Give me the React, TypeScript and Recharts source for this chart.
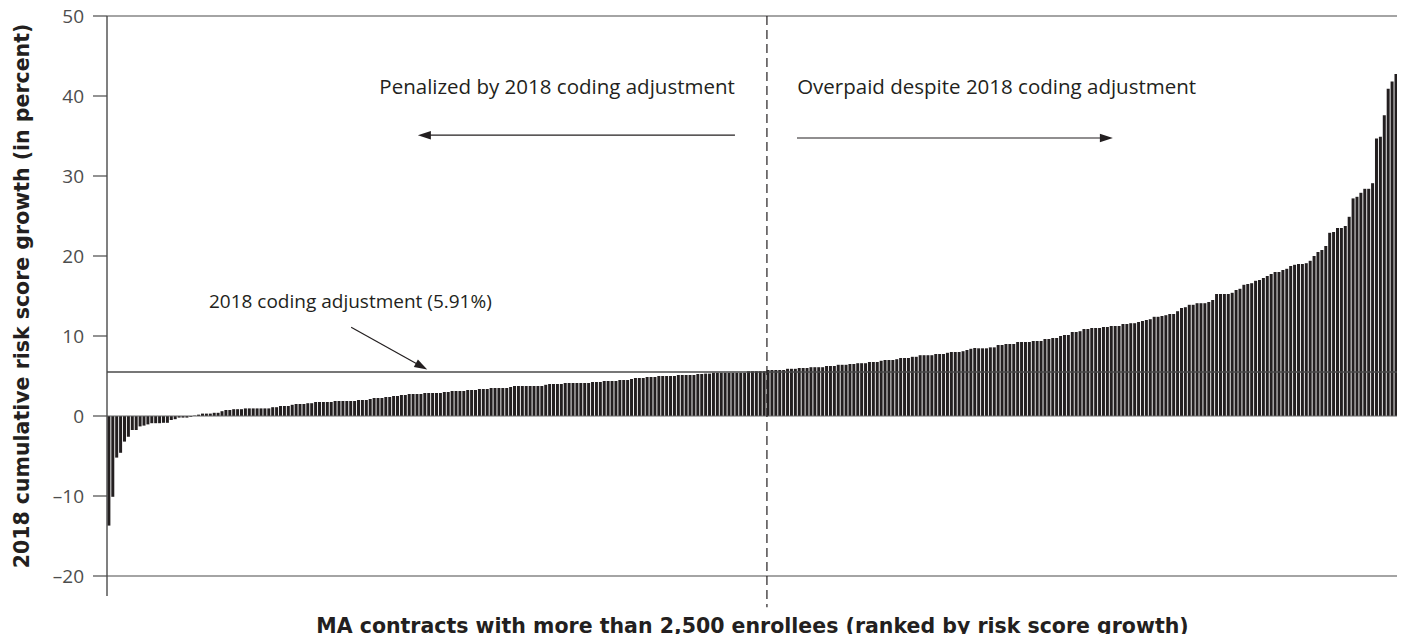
import React from 'react';
import { ComposedChart, Bar, XAxis, YAxis, ReferenceLine, ReferenceDot, Label } from 'recharts';

// 2018 cumulative risk score growth (percent), MA contracts ranked ascending
const riskGrowth: number[] = [
  // lowest contracts
  -13.7, -10.1, -5.2, -4.6, -3.2, -2.6, -1.75, -1.75, -1.3, -1.2, -1.05, -0.9, -0.9, -0.9, -0.85, -0.85,
  -0.5, -0.4, -0.2, -0.2, -0.2, -0.1, 0.05, 0.17, 0.3, 0.3, 0.3, 0.4, 0.4, 0.6, 0.75, 0.75, 0.85, 0.85,
  0.85, 0.95, 0.95, 0.95, 0.95, 0.95, 0.95, 0.95, 1.1, 1.1, 1.25, 1.25, 1.25, 1.4, 1.5, 1.5, 1.5, 1.6,
  1.6, 1.75, 1.75,
  // second segment
  1.75, 1.75, 1.75, 1.875, 1.875, 1.875, 1.875, 1.875, 1.875, 2.0, 2.0, 2.0, 2.125, 2.25, 2.25, 2.25,
  2.375, 2.375, 2.5, 2.5, 2.625, 2.625, 2.75, 2.75, 2.75, 2.75, 2.875, 2.875, 2.875, 2.875, 2.875, 3.0,
  3.0, 3.125, 3.125, 3.125, 3.125, 3.25, 3.25, 3.25, 3.375, 3.375, 3.375, 3.5, 3.5, 3.5, 3.5, 3.5,
  3.625, 3.75, 3.75, 3.75, 3.75, 3.75, 3.75, 3.75,
  // third segment
  3.75, 3.9, 4.0, 4.0, 4.0, 4.0, 4.125, 4.125, 4.125, 4.125, 4.125, 4.125, 4.125, 4.25, 4.25, 4.25,
  4.375, 4.375, 4.375, 4.375, 4.5, 4.5, 4.5, 4.625, 4.75, 4.75, 4.75, 4.875, 4.875, 4.875, 5.0, 5.0,
  5.0, 5.0, 5.0, 5.125, 5.125, 5.125, 5.125, 5.125, 5.25, 5.25, 5.3, 5.3, 5.4, 5.4, 5.4, 5.4, 5.4,
  5.4, 5.4, 5.4, 5.4, 5.6, 5.6, 5.6,
  // fourth segment
  5.6, 5.6, 5.75, 5.75, 5.75, 5.75, 5.75, 5.9, 5.9, 5.9, 6.0, 6.0, 6.0, 6.1, 6.1, 6.1, 6.1, 6.25, 6.25,
  6.25, 6.4, 6.4, 6.4, 6.5, 6.5, 6.6, 6.6, 6.6, 6.75, 6.75, 6.75, 6.9, 7.0, 7.0, 7.0, 7.1, 7.25, 7.25,
  7.25, 7.4, 7.4, 7.6, 7.6, 7.6, 7.6, 7.75, 7.75, 7.75, 7.9, 8.0, 8.0, 8.0, 8.1, 8.25, 8.4, 8.5,
  // fifth segment
  8.46, 8.46, 8.46, 8.58, 8.58, 8.875, 8.875, 9.0, 9.0, 9.0, 9.25, 9.25, 9.25, 9.25, 9.375, 9.375,
  9.375, 9.625, 9.625, 9.75, 9.75, 10.0, 10.125, 10.125, 10.5, 10.5, 10.6, 10.875, 10.875, 11.0, 11.0,
  11.0, 11.125, 11.125, 11.25, 11.25, 11.25, 11.5, 11.5, 11.6, 11.6, 11.75, 11.875,
  // sixth segment
  12.0, 12.1, 12.4, 12.4, 12.5, 12.6, 12.75, 12.75, 13.1, 13.5, 13.6, 13.9, 13.9, 14.1, 14.1, 14.1,
  14.25, 14.5, 15.25, 15.25, 15.25, 15.25, 15.4, 15.75, 15.9, 16.4, 16.5, 16.6, 16.9, 17.0,
  // highest contracts
  17.25, 17.5, 17.75, 18.0, 18.0, 18.25, 18.4, 18.75, 18.9, 19.0, 19.0, 19.1, 19.4, 20.0, 20.5, 20.75,
  21.25, 22.9, 23.0, 23.5, 23.5, 23.75, 24.9, 27.2, 27.4, 27.9, 28.4, 28.4, 29.1, 34.7, 34.9, 37.6,
  40.9, 41.8, 42.75,
];

const yTicks = [-20, -10, 0, 10, 20, 30, 40, 50];
const codingAdjustmentDrawn = 5.5;
const medianRank = 169.2;

const N = riskGrowth.length;
const data = riskGrowth.map((g, i) => ({ rank: i + 1, pos: i + 0.5, growth: g }));

const INK = '#231f20';
const LINE = '#4a4a4a';
const FONT = "'Open Sans', 'DejaVu Sans', sans-serif";
const BOLD_FONT = "'DejaVu Sans', 'Open Sans', sans-serif";

const Arrow = (props: any) => {
  const { x1, y1, x2, y2 } = props;
  const dx = x2 - x1;
  const dy = y2 - y1;
  const len = Math.hypot(dx, dy) || 1;
  const ux = dx / len;
  const uy = dy / len;
  const L = 13;
  const W = 4.2;
  const bx = x2 - ux * L;
  const by = y2 - uy * L;
  const pts = `${x2},${y2} ${bx - uy * W},${by + ux * W} ${bx + uy * W},${by - ux * W}`;
  return (
    <g>
      <line x1={x1} y1={y1} x2={bx + ux * 2} y2={by + uy * 2} stroke={INK} strokeWidth={1.2} />
      <polygon points={pts} fill={INK} />
    </g>
  );
};

const tickFmt = (v: number) => (v < 0 ? `\u2013${Math.abs(v)}` : `${v}`);

const topAnno = { fontSize: 20.5, fill: INK, fontFamily: FONT };
const lowAnno = { fontSize: 19, fill: INK, fontFamily: FONT };

export default function App() {
  return (
    <div style={{ width: 1405, height: 642, margin: -8 }}>
      <ComposedChart
        width={1405}
        height={642}
        data={data}
        margin={{ top: 16, right: 7, bottom: 0, left: 0 }}
        barCategoryGap="10%"
        style={{ fontFamily: FONT }}
      >
        <XAxis dataKey="rank" tick={false} tickLine={false} axisLine={false} height={66} interval={0}>
          <Label
            value="MA contracts with more than 2,500 enrollees (ranked by risk score growth)"
            position="center"
            dy={17}
            style={{ fontWeight: 700, fontSize: 20.5, fill: INK, fontFamily: BOLD_FONT }}
          />
        </XAxis>
        <XAxis xAxisId="n" type="number" dataKey="pos" domain={[0, N]} hide allowDataOverflow />
        <YAxis
          domain={[-20, 50]}
          ticks={yTicks}
          width={107}
          tickSize={14}
          tickMargin={9}
          axisLine={false}
          tickLine={{ stroke: LINE, strokeWidth: 1.2 }}
          tick={{ fill: '#4d4d4d', fontSize: 19, fontFamily: FONT }}
          tickFormatter={tickFmt}
          interval={0}
        >
          <Label
            value="2018 cumulative risk score growth (in percent)"
            angle={-90}
            position="center"
            dx={-31.5}
            style={{ fontWeight: 700, fontSize: 20.5, fill: INK, fontFamily: BOLD_FONT, textAnchor: 'middle' }}
          />
        </YAxis>

        <Bar dataKey="growth" fill={INK} isAnimationActive={false} />

        <ReferenceLine y={50} stroke={LINE} strokeWidth={1.2} />
        <ReferenceLine y={-20} stroke={LINE} strokeWidth={1.2} />
        <ReferenceLine y={0} stroke="#666" strokeWidth={1} />
        <ReferenceLine y={codingAdjustmentDrawn} stroke={LINE} strokeWidth={1.4} />

        <ReferenceLine
          xAxisId="n"
          segment={[{ x: 0, y: 50 }, { x: 0, y: -22.5 }]}
          stroke={LINE}
          strokeWidth={1.4}
          ifOverflow="visible"
        />
        <ReferenceLine
          xAxisId="n"
          segment={[{ x: N, y: 50 }, { x: N, y: -22.5 }]}
          stroke={LINE}
          strokeWidth={1.2}
          ifOverflow="visible"
        />
        <ReferenceLine
          xAxisId="n"
          segment={[{ x: medianRank, y: 50 }, { x: medianRank, y: -23.9 }]}
          stroke={INK}
          strokeWidth={1.2}
          strokeDasharray="9 5"
          ifOverflow="visible"
        />

        <ReferenceLine
          xAxisId="n"
          segment={[{ x: 161.0, y: 35.1 }, { x: 79.7, y: 35.1 }]}
          shape={Arrow}
          ifOverflow="visible"
        />
        <ReferenceLine
          xAxisId="n"
          segment={[{ x: 176.9, y: 34.75 }, { x: 257.9, y: 34.75 }]}
          shape={Arrow}
          ifOverflow="visible"
        />
        <ReferenceLine
          xAxisId="n"
          segment={[{ x: 62.6, y: 11.1 }, { x: 82.1, y: 5.8 }]}
          shape={Arrow}
          ifOverflow="visible"
        />

        <ReferenceDot
          xAxisId="n"
          x={115.4}
          y={41.1}
          r={1}
          fill="none"
          stroke="none"
          label={{ value: 'Penalized by 2018 coding adjustment', position: 'center', style: topAnno }}
        />
        <ReferenceDot
          xAxisId="n"
          x={228.1}
          y={41.1}
          r={1}
          fill="none"
          stroke="none"
          label={{ value: 'Overpaid despite 2018 coding adjustment', position: 'center', style: topAnno }}
        />
        <ReferenceDot
          xAxisId="n"
          x={62.4}
          y={14.4}
          r={1}
          fill="none"
          stroke="none"
          label={{ value: '2018 coding adjustment (5.91%)', position: 'center', style: lowAnno }}
        />
      </ComposedChart>
    </div>
  );
}
